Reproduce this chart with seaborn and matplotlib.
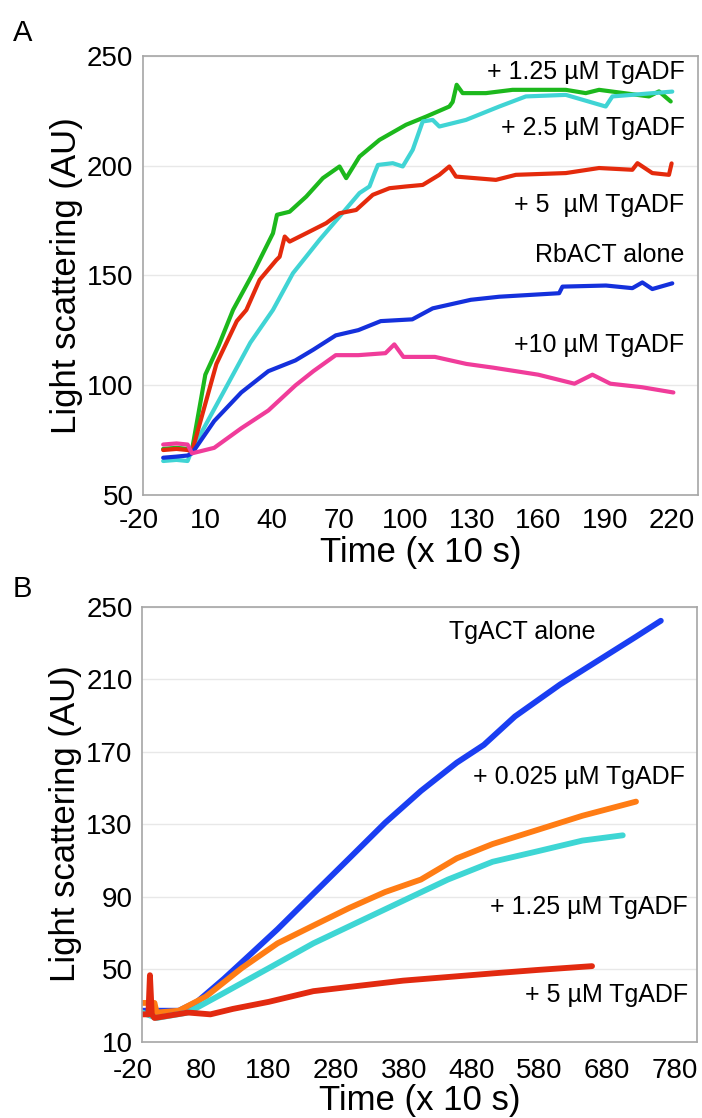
import numpy as np
import pandas as pd
import matplotlib
matplotlib.use("Agg")
import matplotlib.pyplot as plt
import matplotlib.transforms as mtransforms
import seaborn as sns

# Panel A - RbACT light scattering traces
a_green_x = [-11, -5, 0, 2, 8, 14, 20.5, 29.5, 38.5, 40.3, 46, 53.5, 61, 68.5, 71.5, 77.5, 86.5,
             98.5, 107.5, 118, 119.5, 121.3, 124, 134.5, 146.5, 170.5, 179.5, 185.5, 208,
             212.5, 217.8]
a_green_y = [71, 71.5, 71, 70.6, 104.8, 118, 134.3, 151, 169.2, 177.6, 179, 185.9, 194.3, 199.6,
             194.3, 204.1, 211.7, 218.6, 222.3, 226.9, 229, 236.8, 233, 233, 234.5, 234.5, 233,
             234.5, 231.5, 233.8, 229.2]

a_cyan_x = [-11, -5, 0, 2, 16.1, 28.3, 38.5, 47.5, 59.5, 68.5, 77.5, 82, 84.3, 85.8, 92.5, 97,
            101.5, 106, 110.5, 113.5, 125.5, 140.5, 152.5, 170.5, 188.5, 191.5, 218.5]
a_cyan_y = [65.5, 66, 65.5, 70.6, 96.7, 119.4, 134.3, 151, 166.2, 176.8, 187.5, 190.5, 196.6,
            200.3, 201.1, 199.6, 207.2, 220.1, 220.8, 217.8, 220.8, 226.9, 231.5, 232.2, 226.9,
            231.5, 233.7]

a_red_x = [-11, -5, 0, 2, 13, 22.2, 26.5, 32.5, 40, 41.5, 43.8, 46, 53.5, 62.5, 68.5, 76, 83.5,
           91, 98.5, 106, 113.5, 118, 121, 139, 148, 170.5, 185.5, 200.5, 202.8, 209.5, 217, 218.2]
a_red_y = [70.5, 71, 70.5, 69.8, 109.7, 129.2, 134.3, 148, 157, 158.5, 167.7, 165.4, 169.2,
           173.8, 178.3, 179.8, 186.7, 189.7, 190.5, 191.2, 195.8, 199.6, 195, 193.5, 195.8,
           196.6, 198.9, 198.1, 201.1, 196.6, 195.8, 201]

a_blue_x = [-11, -5, 0, 2, 12, 24.2, 36.4, 48.6, 56.7, 66.8, 77, 87.1, 101.3, 110.5, 127.7,
            140.5, 167.5, 169, 188.6, 200.5, 205, 209.5, 218.5]
a_blue_y = [67, 67.5, 68, 69, 83.7, 96.7, 106.4, 111.3, 116.2, 122.7, 125.1, 129.2, 130, 135,
            138.9, 140.3, 141.9, 144.9, 145.4, 144.2, 146.8, 143.8, 146.4]

a_pink_x = [-11, -5, 0, 2, 12, 24.2, 36.4, 48.6, 56.7, 66.8, 77, 89.2, 93.2, 97.3, 111.5, 125.7,
            137.8, 158.1, 174.4, 182.5, 190.6, 204.8, 219]
a_pink_y = [73, 73.5, 73, 69, 71.5, 80.4, 88.5, 99.9, 106.4, 113.7, 113.7, 114.6, 118.6, 112.9,
            112.9, 109.7, 108, 104.8, 100.7, 104.8, 100.7, 99.1, 96.7]

# Panel B - TgACT traces
b_blue_x = [-20, 0, 34, 61, 100.6, 140.4, 180, 233, 286, 339, 392, 445, 485, 531, 597.6, 664, 710, 746.7]
b_blue_y = [27, 27, 27, 31.9, 44.6, 58.3, 72, 91.6, 111.1, 130.7, 148.3, 163.9, 173.7, 189.4, 207,
            222.6, 233.4, 242.2]

b_orange_x = [-20, -2, 1.2, 34, 74, 127, 180, 233, 286, 339, 392, 445, 498, 564.5, 630.8, 710]
b_orange_y = [31.3, 31.3, 26, 27, 34.8, 50.5, 64.2, 74, 83.7, 92.5, 99.4, 111.1, 119, 126.8, 134.6, 142.4]

b_cyan_x = [-20, 1, 47.6, 100.6, 167, 233, 299, 365.7, 432, 498, 564.5, 630.8, 690.4]
b_cyan_y = [26, 23, 26, 36.8, 50.5, 64.2, 75.9, 87.7, 99.4, 109.2, 115, 120.9, 123.8]

b_red_x = [-20, -11, -8.7, -6, -2, 47.6, 80.7, 113.9, 167, 233, 299, 365.7, 432, 498, 564.5, 645]
b_red_y = [25, 25, 46.6, 25, 23, 26, 25, 28, 31.9, 37.8, 40.7, 43.6, 45.6, 47.6, 49.5, 51.6]

a_series = [("+ 1.25 µM TgADF", a_green_x, a_green_y, "#1cb81c"),
            ("+ 2.5 µM TgADF", a_cyan_x, a_cyan_y, "#40d4d4"),
            ("+ 5 µM TgADF", a_red_x, a_red_y, "#e42a0c"),
            ("RbACT alone", a_blue_x, a_blue_y, "#1430dc"),
            ("+10 µM TgADF", a_pink_x, a_pink_y, "#f03c9a")]
b_series = [("TgACT alone", b_blue_x, b_blue_y, "#1a3ef2"),
            ("+ 0.025 µM TgADF", b_orange_x, b_orange_y, "#ff7c14"),
            ("+ 1.25 µM TgADF", b_cyan_x, b_cyan_y, "#3ed6d4"),
            ("+ 5 µM TgADF", b_red_x, b_red_y, "#e22a10")]

# annotation labels (text, x, y)
a_labels = [("+ 1.25 µM TgADF", 224, 242.7), ("+ 2.5 µM TgADF", 224, 217.2),
            ("+ 5  µM TgADF", 224, 182.1), ("RbACT alone", 224, 159.3),
            ("+10 µM TgADF", 224, 118.3)]
b_labels = [("TgACT alone", 650, 235.8), ("+ 0.025 µM TgADF", 782, 156),
            ("+ 1.25 µM TgADF", 787, 84.5), ("+ 5 µM TgADF", 787, 35.8)]


def to_frame(series):
    parts = []
    for name, xs, ys, _ in series:
        parts.append(pd.DataFrame({"time": xs, "signal": ys, "trace": name}))
    return pd.concat(parts, ignore_index=True)


def style_axes(ax, xlim, ylim, xticks, yticks, shift_px, xpad, xlabelpad):
    ax.set_xlim(*xlim)
    ax.set_ylim(*ylim)
    ax.set_xticks(xticks)
    ax.set_yticks(yticks)
    ax.grid(axis="y", color="#e8e8e8", linewidth=1)
    ax.grid(axis="x", visible=False)
    ax.set_axisbelow(True)
    for s in ax.spines.values():
        s.set_color("#a6a6a6")
        s.set_linewidth(1.2)
    ax.tick_params(axis="x", length=5, color="#a6a6a6", labelsize=20, pad=xpad, labelcolor="black")
    ax.tick_params(axis="y", length=0, labelsize=20, pad=7, labelcolor="black")
    ax.set_xlabel("Time (x 10 s)", fontsize=25, labelpad=xlabelpad, color="black")
    ax.set_ylabel("Light scattering (AU)", fontsize=25, labelpad=3, color="black")
    # labels sit a little left of their ticks in the original
    off = mtransforms.ScaledTranslation(shift_px / 100, 0, ax.figure.dpi_scale_trans)
    for lab in ax.get_xticklabels():
        lab.set_transform(lab.get_transform() + off)


sns.set_style("white")
plt.rcParams["font.family"] = ["Liberation Sans", "DejaVu Sans"]
plt.rcParams["axes.unicode_minus"] = False

fig = plt.figure(figsize=(7.02, 11.18), dpi=100)
ax_a = fig.add_axes([0.204, 0.5572, 0.790, 0.3929])
ax_b = fig.add_axes([0.2027, 0.0684, 0.790, 0.389])

df_a = to_frame(a_series)
sns.lineplot(data=df_a, x="time", y="signal", hue="trace", sort=False, estimator=None,
             palette={n: c for n, _, _, c in a_series}, linewidth=3.0, legend=False, ax=ax_a)
style_axes(ax_a, (-20, 230), (50, 250), np.arange(-20, 221, 30), [50, 100, 150, 200, 250],
           -4, 4, 2)
for txt, x, y in a_labels:
    ax_a.text(x, y, txt, ha="right", va="center", fontsize=18, color="black")

df_b = to_frame(b_series)
sns.lineplot(data=df_b, x="time", y="signal", hue="trace", sort=False, estimator=None,
             palette={n: c for n, _, _, c in b_series}, linewidth=4.2, legend=False, ax=ax_b)
style_axes(ax_b, (-20, 800), (10, 250), np.arange(-20, 781, 100), np.arange(10, 251, 40),
           -9, 7, 0)
for txt, x, y in b_labels:
    ax_b.text(x, y, txt, ha="right", va="center", fontsize=18, color="black")

fig.text(0.018, 0.983, "A", fontsize=21, va="top", color="black")
fig.text(0.018, 0.486, "B", fontsize=21, va="top", color="black")

fig.savefig("out.png", dpi=100)
